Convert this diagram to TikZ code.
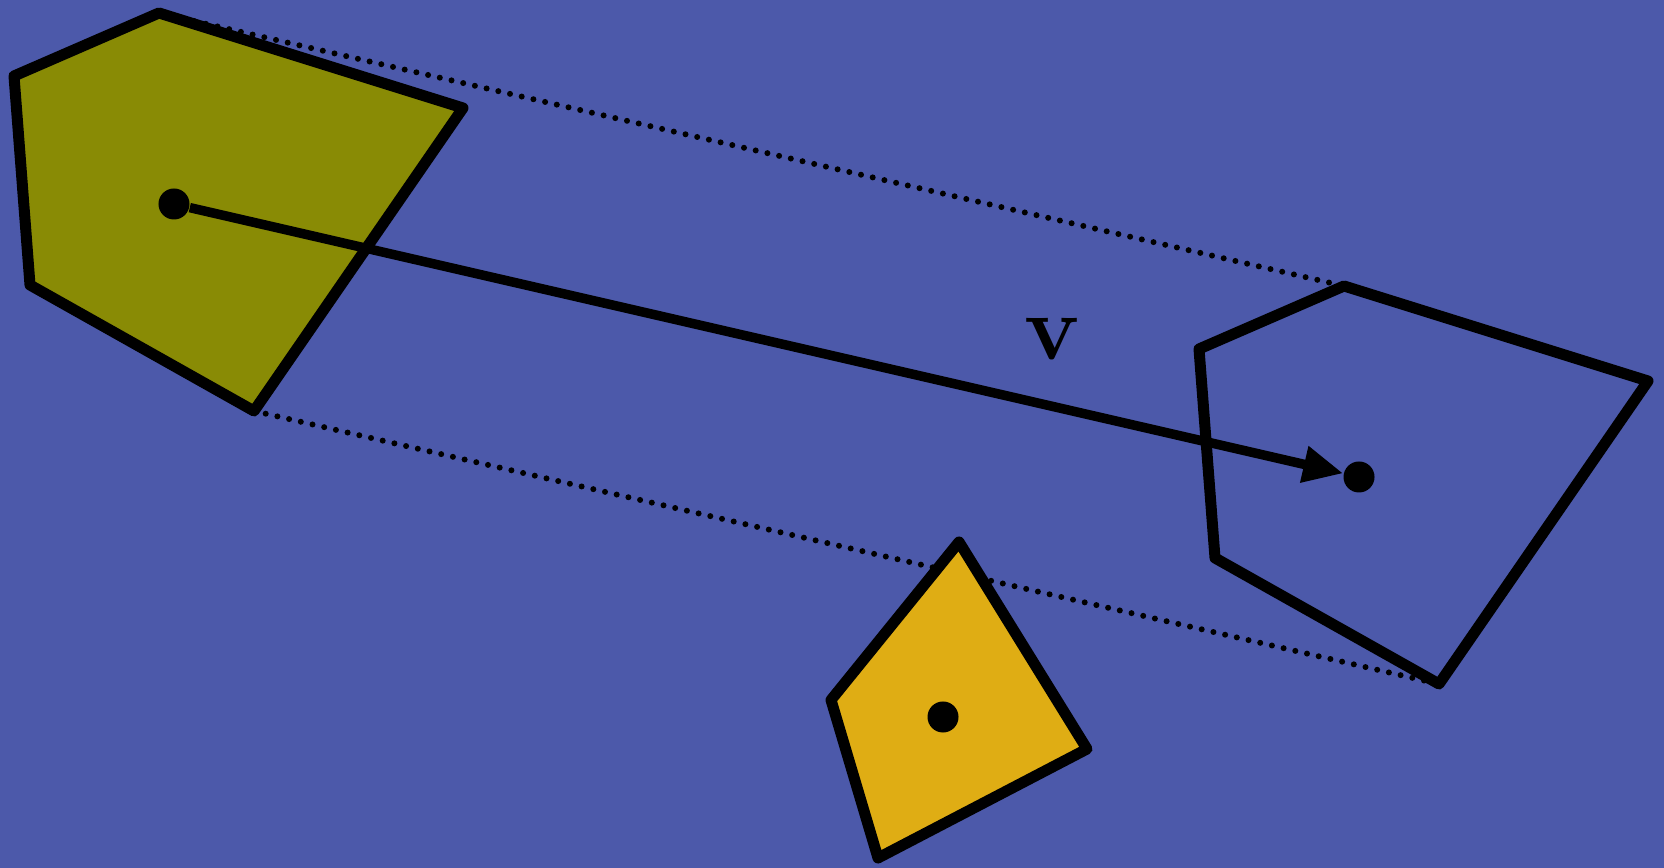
\documentclass[tikz,border=0pt]{standalone}
\usepackage{xcolor}
\usepackage{tikz}
\usetikzlibrary{arrows.meta, positioning}
\definecolor{bgcolor}{RGB}{76, 89, 170}
\definecolor{origcolor}{RGB}{137, 139, 5}
\definecolor{querycolor}{RGB}{223, 173, 20}

\begin{document}
\begin{tikzpicture}[
    x=0.01cm, y=-0.01cm,
    outline/.style={line width=0.11cm, line join=round},
    dotline/.style={line width=0.06cm, line cap=round, dash pattern=on 0pt off 0.12cm},
    centre/.style={circle, fill=black, inner sep=0pt, minimum size=0.31cm}
]

% Background
\fill[bgcolor] (0,0) rectangle (1664,868);
\useasboundingbox (0,0) rectangle (1664,868);

% Corners
\coordinate (g1) at (159,13);
\coordinate (g2) at (14,76);
\coordinate (g3) at (30,285);
\coordinate (g4) at (254,411);
\coordinate (g5) at (463,108);
\coordinate (b1) at (1344,286);
\coordinate (b2) at (1199,349);
\coordinate (b3) at (1215,558);
\coordinate (b4) at (1439,684);
\coordinate (b5) at (1648,381);

% Sweep lines
\draw[dotline] (g1) -- (b1);
\draw[dotline] (g4) -- (b4);

% Polygons
\draw[outline, fill=origcolor] (g1) -- (g2) -- (g3) -- (g4) -- (g5) -- cycle;
\draw[outline] (b1) -- (b2) -- (b3) -- (b4) -- (b5) -- cycle;
\draw[outline, fill=querycolor] (959,542) -- (831,700) -- (878,858) -- (1087,749) -- cycle;

% Centres
\node[centre] (gdot) at (174,204) {};
\node[centre] (bdot) at (1359,477) {};
\node[centre] (qdot) at (943,717) {};

% Translation
\draw[line width=0.095cm, -{Triangle[length=0.4cm, width=0.35cm]}] (gdot) -- (bdot);
\node[scale=1.06] (vlabel) at (1053,339) {\Huge$\mathbf{v}$};

\end{tikzpicture}
\end{document}
